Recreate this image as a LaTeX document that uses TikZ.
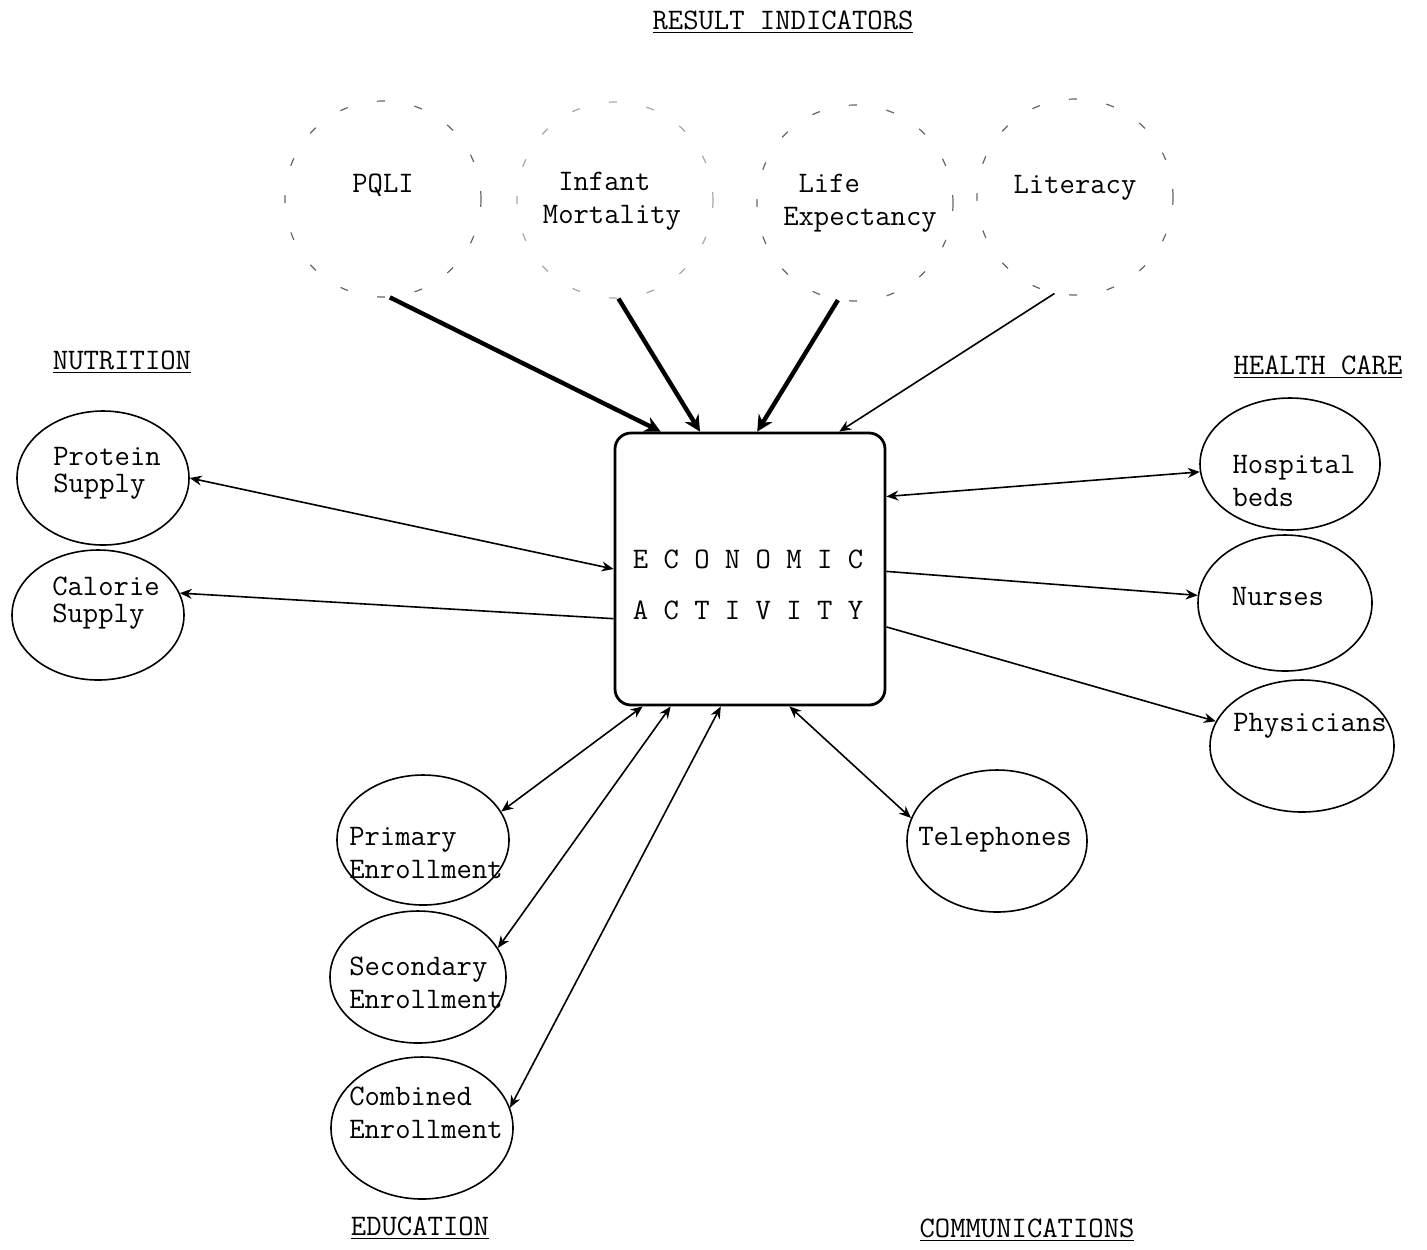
\documentclass[tikz,border=0pt]{standalone}
\usetikzlibrary{shapes.geometric, arrows.meta}
\tikzstyle{indicator} = [circle, minimum size=98pt, draw=black!60, line width=0.6pt, dash pattern=on 4pt off 15pt]
\tikzstyle{factor} = [ellipse, minimum width=86pt, minimum height=67pt, draw=black, thick]
\tikzstyle{hub} = [rectangle, rounded corners=8pt, minimum width=135pt, minimum height=136pt, draw=black, line width=1.4pt]
\tikzstyle{words} = [align=left, inner sep=0pt]
\tikzstyle{arrow} = [thick,->,>={Stealth[length=6pt,width=5pt]}]
\tikzstyle{heavy} = [line width=2.2pt,->,>={Stealth[length=8pt,width=8pt]}]
\tikzstyle{both} = [thick,<->,>={Stealth[length=6pt,width=5pt]}]

\begin{document}
\begin{tikzpicture}[x=0.5pt, y=-0.5pt, font=\ttfamily\fontsize{14.9}{16.5}\selectfont]

    \useasboundingbox (0,0) rectangle (1427,1249);

    % headings
    \node (resulthead) [words] at (783,22) {\underline{RESULT INDICATORS}};
    \node (nutrhead) [words] at (122,362) {\underline{NUTRITION}};
    \node (healthhead) [words] at (1318,367) {\underline{HEALTH CARE}};
    \node (eduhead) [words] at (420,1228) {\underline{EDUCATION}};
    \node (commhead) [words] at (1027,1230) {\underline{COMMUNICATIONS}};

    % result indicators
    \node (pqli) [indicator] at (383,199) {};
    \node (infant) [indicator, draw=black!35] at (615,200) {};
    \node (life) [indicator] at (855,203) {};
    \node (literacy) [indicator] at (1075,197) {};
    \node (pqlitxt) [words] at (383,185) {PQLI};
    \node (infanttxt) [words] at (612,201) {\ Infant\\Mortality};
    \node (lifetxt) [words] at (860,203) {\ Life\\Expectancy};
    \node (literacytxt) [words] at (1075,188) {Literacy};

    % economic activity
    \node (eco) [hub] at (750,569) {};
    \node (ecotxt) [words, align=center] at (748,585) {E C O N O M I C\\[9pt]A C T I V I T Y};

    % nutrition
    \node (protein) [factor] at (103,478) {};
    \node (calorie) [factor, minimum height=65pt] at (98,615) {};
    \node (proteintxt) [words] at (107,473) {Protein\\[-3pt]Supply};
    \node (calorietxt) [words] at (106,603) {Calorie\\[-3pt]Supply};

    % health care
    \node (hospital) [factor, minimum width=90pt, minimum height=66pt] at (1290,464) {};
    \node (nurses) [factor, minimum width=87pt, minimum height=68pt] at (1285,603) {};
    \node (physicians) [factor, minimum width=92pt, minimum height=66pt] at (1302,746) {};
    \node (hospitaltxt) [words] at (1294,481) {Hospital\\beds};
    \node (nursestxt) [words] at (1278,596) {Nurses};
    \node (physicianstxt) [words] at (1310,726) {Physicians};

    % education
    \node (primary) [factor, minimum height=65pt] at (423,840) {};
    \node (secondary) [factor, minimum width=88pt, minimum height=66pt] at (418,977) {};
    \node (combined) [factor, minimum width=91pt, minimum height=71pt] at (422,1128) {};
    \node (primarytxt) [words] at (426,853) {Primary\\Enrollment};
    \node (secondarytxt) [words] at (426,983) {Secondary\\Enrollment};
    \node (combinedtxt) [words] at (426,1113) {Combined\\Enrollment};

    % communications
    \node (telephones) [factor, minimum width=90pt, minimum height=71pt] at (997,841) {};
    \node (telephonestxt) [words] at (995,840) {Telephones};

    \draw [heavy] (pqli.274) -- (eco.123);
    \draw [heavy] (infant.272) -- (eco.110);
    \draw [heavy] (life.260) -- (eco.87);
    \draw [arrow] (literacy.258) -- (eco.57);

    \draw [both] (protein.east) -- (eco.180);
    \draw [arrow] (eco.200) -- (calorie.15);
    \draw [both] (eco.28) -- (hospital.185);
    \draw [arrow] (eco.359) -- (nurses.175);
    \draw [arrow] (eco.337) -- (physicians.164);
    \draw [both] (eco.286) -- (telephones.165);
    \draw [both] (eco.232) -- (primary.20);
    \draw [both] (eco.240) -- (secondary.20);
    \draw [both] (eco.258) -- (combined.13);

\end{tikzpicture}
\end{document}
